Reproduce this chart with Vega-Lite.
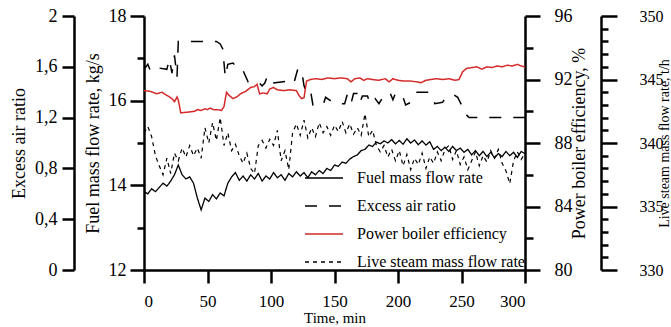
{
  "$schema": "https://vega.github.io/schema/vega-lite/v6.json",
  "autosize": "none",
  "width": 381,
  "height": 254,
  "padding": {"left": 144, "top": 16, "right": 146, "bottom": 57},
  "background": "white",
  "config": {
    "view": {"stroke": null},
    "font": "Liberation Serif",
    "axis": {
      "grid": false,
      "domainColor": "black",
      "domainWidth": 2.5,
      "tickColor": "black",
      "tickWidth": 2.5,
      "labelColor": "black",
      "titleColor": "black",
      "labelFont": "Liberation Serif",
      "titleFont": "Liberation Serif",
      "labelFontSize": 18,
      "titleFontSize": 18,
      "titleFontWeight": "normal"
    },
    "legend": {
      "labelFont": "Liberation Serif",
      "labelFontSize": 16,
      "labelColor": "black",
      "labelLimit": 0
    }
  },
  "datasets": {
    "fuel": [
      {"t":0,"v":13.85},{"t":3,"v":13.8},{"t":6,"v":13.92},{"t":9,"v":13.85},{"t":12,"v":13.95},{"t":15,"v":14.05},{"t":18,"v":13.98},{"t":21,"v":14.1},{"t":24,"v":14.25},{"t":27,"v":14.48},{"t":30,"v":14.25},{"t":33,"v":14.15},{"t":36,"v":14.2},{"t":39,"v":14.05},{"t":42,"v":13.7},{"t":45,"v":13.42},{"t":48,"v":13.7},{"t":51,"v":13.62},{"t":54,"v":13.78},{"t":57,"v":13.68},{"t":60,"v":13.82},{"t":63,"v":13.75},{"t":66,"v":14.05},{"t":69,"v":14.2},{"t":72,"v":14.3},{"t":75,"v":14.12},{"t":78,"v":14.22},{"t":81,"v":14.1},{"t":84,"v":14.25},{"t":87,"v":14.15},{"t":90,"v":14.28},{"t":93,"v":14.1},{"t":96,"v":14.22},{"t":99,"v":14.15},{"t":102,"v":14.3},{"t":105,"v":14.18},{"t":108,"v":14.25},{"t":111,"v":14.12},{"t":114,"v":14.28},{"t":117,"v":14.2},{"t":120,"v":14.32},{"t":123,"v":14.22},{"t":126,"v":14.3},{"t":129,"v":14.18},{"t":132,"v":14.32},{"t":135,"v":14.25},{"t":138,"v":14.35},{"t":141,"v":14.28},{"t":144,"v":14.4},{"t":147,"v":14.35},{"t":150,"v":14.48},{"t":153,"v":14.45},{"t":156,"v":14.55},{"t":159,"v":14.52},{"t":162,"v":14.62},{"t":165,"v":14.68},{"t":168,"v":14.72},{"t":171,"v":14.82},{"t":174,"v":14.85},{"t":177,"v":14.95},{"t":180,"v":14.92},{"t":183,"v":15.02},{"t":186,"v":14.98},{"t":189,"v":15.05},{"t":192,"v":15.0},{"t":195,"v":15.08},{"t":198,"v":14.98},{"t":201,"v":15.06},{"t":204,"v":14.97},{"t":207,"v":15.1},{"t":210,"v":15.0},{"t":213,"v":15.07},{"t":216,"v":14.96},{"t":219,"v":15.05},{"t":222,"v":14.95},{"t":225,"v":15.03},{"t":228,"v":14.85},{"t":231,"v":14.92},{"t":234,"v":14.82},{"t":237,"v":14.9},{"t":240,"v":14.8},{"t":243,"v":14.92},{"t":246,"v":14.82},{"t":249,"v":14.88},{"t":252,"v":14.78},{"t":255,"v":14.85},{"t":258,"v":14.72},{"t":261,"v":14.82},{"t":264,"v":14.7},{"t":267,"v":14.8},{"t":270,"v":14.68},{"t":273,"v":14.78},{"t":276,"v":14.65},{"t":279,"v":14.75},{"t":282,"v":14.68},{"t":285,"v":14.8},{"t":288,"v":14.7},{"t":291,"v":14.78},{"t":294,"v":14.66},{"t":297,"v":14.8},{"t":300,"v":14.75}
    ],
    "excess": [
      {"t":0,"v":1.58},{"t":3,"v":1.62},{"t":5,"v":1.57},{"t":6,"v":1.59},{"t":12,"v":1.59},{"t":18,"v":1.58},{"t":20,"v":1.66},{"t":22,"v":1.55},{"t":24,"v":1.69},{"t":26,"v":1.52},{"t":27,"v":1.8},{"t":57,"v":1.8},{"t":60,"v":1.78},{"t":62,"v":1.74},{"t":64,"v":1.52},{"t":66,"v":1.62},{"t":70,"v":1.63},{"t":73,"v":1.6},{"t":75,"v":1.6},{"t":78,"v":1.57},{"t":82,"v":1.48},{"t":90,"v":1.48},{"t":93,"v":1.45},{"t":95,"v":1.47},{"t":97,"v":1.52},{"t":99,"v":1.47},{"t":115,"v":1.49},{"t":118,"v":1.47},{"t":121,"v":1.58},{"t":124,"v":1.58},{"t":126,"v":1.45},{"t":128,"v":1.4},{"t":131,"v":1.42},{"t":133,"v":1.3},{"t":141,"v":1.3},{"t":143,"v":1.36},{"t":150,"v":1.31},{"t":158,"v":1.31},{"t":160,"v":1.38},{"t":163,"v":1.31},{"t":165,"v":1.39},{"t":168,"v":1.39},{"t":170,"v":1.32},{"t":172,"v":1.37},{"t":176,"v":1.37},{"t":178,"v":1.31},{"t":182,"v":1.35},{"t":185,"v":1.31},{"t":190,"v":1.39},{"t":194,"v":1.39},{"t":196,"v":1.34},{"t":198,"v":1.39},{"t":202,"v":1.39},{"t":204,"v":1.36},{"t":206,"v":1.3},{"t":210,"v":1.32},{"t":215,"v":1.4},{"t":224,"v":1.4},{"t":227,"v":1.36},{"t":229,"v":1.31},{"t":235,"v":1.32},{"t":238,"v":1.36},{"t":244,"v":1.38},{"t":247,"v":1.36},{"t":250,"v":1.3},{"t":252,"v":1.24},{"t":256,"v":1.2},{"t":300,"v":1.2}
    ],
    "eff": [
      {"t":0,"v":91.3},{"t":5,"v":91.25},{"t":10,"v":91.1},{"t":14,"v":91.2},{"t":18,"v":91.0},{"t":22,"v":90.8},{"t":24,"v":90.6},{"t":26,"v":90.9},{"t":27,"v":90.7},{"t":29,"v":89.9},{"t":35,"v":89.95},{"t":40,"v":90.0},{"t":42,"v":90.1},{"t":45,"v":90.05},{"t":48,"v":90.15},{"t":50,"v":90.1},{"t":52,"v":90.2},{"t":55,"v":90.1},{"t":58,"v":90.1},{"t":61,"v":90.05},{"t":63,"v":90.3},{"t":65,"v":91.2},{"t":67,"v":91.0},{"t":70,"v":90.8},{"t":73,"v":90.9},{"t":76,"v":91.1},{"t":80,"v":91.25},{"t":84,"v":91.5},{"t":87,"v":91.55},{"t":89,"v":91.7},{"t":91,"v":91.1},{"t":94,"v":91.15},{"t":97,"v":91.1},{"t":99,"v":91.4},{"t":102,"v":91.5},{"t":105,"v":91.35},{"t":110,"v":91.3},{"t":115,"v":91.35},{"t":120,"v":91.3},{"t":122,"v":91.0},{"t":124,"v":90.8},{"t":126,"v":90.85},{"t":128,"v":91.9},{"t":131,"v":92.0},{"t":135,"v":92.05},{"t":140,"v":92.0},{"t":145,"v":92.1},{"t":150,"v":92.05},{"t":155,"v":92.1},{"t":160,"v":92.05},{"t":163,"v":91.85},{"t":166,"v":92.05},{"t":170,"v":92.1},{"t":173,"v":91.95},{"t":176,"v":92.05},{"t":180,"v":92.0},{"t":185,"v":91.95},{"t":190,"v":92.05},{"t":193,"v":91.85},{"t":196,"v":92.05},{"t":200,"v":91.95},{"t":205,"v":91.9},{"t":210,"v":91.9},{"t":215,"v":91.85},{"t":218,"v":91.8},{"t":222,"v":91.95},{"t":226,"v":92.0},{"t":230,"v":92.05},{"t":235,"v":92.0},{"t":240,"v":92.05},{"t":245,"v":91.95},{"t":248,"v":92.0},{"t":251,"v":92.5},{"t":254,"v":92.7},{"t":258,"v":92.75},{"t":262,"v":92.8},{"t":266,"v":92.65},{"t":270,"v":92.8},{"t":274,"v":92.75},{"t":278,"v":92.85},{"t":282,"v":92.8},{"t":286,"v":92.9},{"t":290,"v":92.85},{"t":294,"v":92.95},{"t":297,"v":92.85},{"t":300,"v":92.8}
    ],
    "steam": [
      {"t":0,"v":340.8},{"t":3,"v":341.3},{"t":6,"v":340.5},{"t":9,"v":339.0},{"t":12,"v":338.2},{"t":15,"v":337.5},{"t":18,"v":338.8},{"t":21,"v":337.6},{"t":24,"v":339.2},{"t":27,"v":338.6},{"t":30,"v":339.6},{"t":33,"v":338.9},{"t":36,"v":339.8},{"t":39,"v":339.0},{"t":42,"v":339.6},{"t":45,"v":338.8},{"t":48,"v":341.2},{"t":51,"v":340.0},{"t":54,"v":341.6},{"t":57,"v":340.2},{"t":60,"v":342.0},{"t":63,"v":339.8},{"t":66,"v":340.8},{"t":69,"v":339.4},{"t":72,"v":339.9},{"t":75,"v":339.0},{"t":78,"v":338.4},{"t":81,"v":339.2},{"t":84,"v":338.0},{"t":87,"v":337.6},{"t":90,"v":339.8},{"t":93,"v":340.2},{"t":96,"v":339.6},{"t":99,"v":340.3},{"t":102,"v":339.8},{"t":105,"v":341.0},{"t":108,"v":338.6},{"t":111,"v":339.4},{"t":114,"v":337.9},{"t":117,"v":340.8},{"t":120,"v":341.5},{"t":123,"v":340.6},{"t":126,"v":341.8},{"t":129,"v":340.4},{"t":132,"v":341.2},{"t":135,"v":340.5},{"t":138,"v":341.6},{"t":141,"v":340.8},{"t":144,"v":341.3},{"t":147,"v":340.6},{"t":150,"v":341.4},{"t":153,"v":340.9},{"t":156,"v":341.7},{"t":159,"v":340.8},{"t":162,"v":341.5},{"t":165,"v":340.7},{"t":168,"v":341.2},{"t":171,"v":340.6},{"t":174,"v":342.3},{"t":177,"v":340.5},{"t":180,"v":341.0},{"t":183,"v":339.8},{"t":186,"v":339.3},{"t":189,"v":339.8},{"t":192,"v":338.9},{"t":195,"v":339.5},{"t":198,"v":338.6},{"t":201,"v":339.4},{"t":204,"v":338.2},{"t":207,"v":339.1},{"t":210,"v":337.9},{"t":213,"v":338.8},{"t":216,"v":338.3},{"t":219,"v":339.2},{"t":222,"v":338.0},{"t":225,"v":338.9},{"t":228,"v":338.4},{"t":231,"v":339.3},{"t":234,"v":338.6},{"t":237,"v":339.5},{"t":240,"v":339.8},{"t":243,"v":338.7},{"t":246,"v":339.4},{"t":249,"v":338.3},{"t":252,"v":338.9},{"t":255,"v":337.9},{"t":258,"v":338.6},{"t":261,"v":339.3},{"t":264,"v":338.2},{"t":267,"v":339.0},{"t":270,"v":338.5},{"t":273,"v":339.4},{"t":276,"v":338.8},{"t":279,"v":339.5},{"t":282,"v":338.4},{"t":285,"v":337.8},{"t":288,"v":336.8},{"t":291,"v":338.6},{"t":294,"v":339.3},{"t":297,"v":338.7},{"t":300,"v":339.2}
    ]
  },
  "resolve": {"scale": {"y": "independent"}, "axis": {"y": "independent"}},
  "layer": [
    {
      "data": {"name": "fuel"},
      "mark": {"type": "line", "strokeWidth": 1.3},
      "encoding": {
        "x": {
          "field": "t", "type": "quantitative",
          "scale": {"domain": [0, 300], "nice": false},
          "axis": {"title": "Time, min", "values": [0, 50, 100, 150, 200, 250, 300], "tickSize": 13, "labelPadding": 10, "labelFontSize": 17, "titlePadding": 1, "titleFontSize": 15}
        },
        "y": {
          "field": "v", "type": "quantitative",
          "scale": {"domain": [12, 18], "nice": false, "zero": false},
          "axis": {
            "orient": "left", "offset": 0,
            "title": "Fuel mass flow rate, kg/s",
            "values": [12, 13, 14, 15, 16, 17, 18],
            "labelExpr": "datum.value % 2 == 0 ? datum.label : ''",
            "tickSize": {"condition": {"test": "datum.value % 2 == 0", "value": 14}, "value": 7},
            "labelPadding": 4, "titlePadding": 6
          }
        },
        "color": {
          "datum": "Fuel mass flow rate", "type": "nominal",
          "scale": {
            "domain": ["Fuel mass flow rate", "Excess air ratio", "Power boiler efficiency", "Live steam mass flow rate"],
            "range": ["#000000", "#000000", "#d42a2a", "#000000"]
          },
          "legend": {
            "title": null, "orient": "bottom-right", "offset": 0, "padding": 0,
            "symbolType": "stroke", "symbolSize": 1444, "symbolStrokeWidth": 1.5,
            "labelOffset": 13, "rowPadding": -2
          }
        },
        "strokeDash": {
          "datum": "Fuel mass flow rate", "type": "nominal",
          "scale": {
            "domain": ["Fuel mass flow rate", "Excess air ratio", "Power boiler efficiency", "Live steam mass flow rate"],
            "range": [[1, 0], [12, 12], [1, 0], [4, 4]]
          },
          "legend": {
            "title": null, "orient": "bottom-right", "offset": 0, "padding": 0,
            "symbolType": "stroke", "symbolSize": 1444, "symbolStrokeWidth": 1.5,
            "labelOffset": 13, "rowPadding": -2
          }
        }
      }
    },
    {
      "data": {"name": "excess"},
      "mark": {"type": "line", "strokeWidth": 1.5},
      "encoding": {
        "x": {"field": "t", "type": "quantitative"},
        "y": {
          "field": "v", "type": "quantitative",
          "scale": {"domain": [0, 2], "nice": false},
          "axis": {
            "orient": "left", "offset": 70,
            "title": "Excess air ratio",
            "values": [0, 0.4, 0.8, 1.2, 1.6, 2],
            "labelExpr": "datum.value == 0 ? '0' : datum.value == 2 ? '2' : replace(format(datum.value, '.1f'), '.', ',')",
            "tickSize": 12, "labelPadding": 5, "titlePadding": 6
          }
        },
        "color": {"datum": "Excess air ratio", "type": "nominal"},
        "strokeDash": {"datum": "Excess air ratio", "type": "nominal"}
      }
    },
    {
      "data": {"name": "eff"},
      "mark": {"type": "line", "strokeWidth": 1.5},
      "encoding": {
        "x": {"field": "t", "type": "quantitative"},
        "y": {
          "field": "v", "type": "quantitative",
          "scale": {"domain": [80, 96], "nice": false, "zero": false},
          "axis": {
            "orient": "right", "offset": 0,
            "title": "Power boiler efficiency, %", "titleAngle": 270,
            "values": [80, 82, 84, 86, 88, 90, 92, 94, 96],
            "labelExpr": "datum.value % 4 == 0 ? datum.label : ''",
            "tickSize": {"condition": {"test": "datum.value % 4 == 0", "value": 15}, "value": 8},
            "labelPadding": 14, "titlePadding": 16
          }
        },
        "color": {"datum": "Power boiler efficiency", "type": "nominal"},
        "strokeDash": {"datum": "Power boiler efficiency", "type": "nominal"}
      }
    },
    {
      "data": {"name": "steam"},
      "mark": {"type": "line", "strokeWidth": 1.2},
      "encoding": {
        "x": {"field": "t", "type": "quantitative"},
        "y": {
          "field": "v", "type": "quantitative",
          "scale": {"domain": [330, 350], "nice": false, "zero": false},
          "axis": {
            "orient": "right", "offset": 76,
            "title": "Live steam mass flow rate, t/h", "titleAngle": 270,
            "values": [330,331,332,333,334,335,336,337,338,339,340,341,342,343,344,345,346,347,348,349,350],
            "labelExpr": "datum.value % 5 == 0 ? datum.label : ''",
            "tickSize": {"condition": {"test": "datum.value % 5 == 0", "value": 16}, "value": 7},
            "labelPadding": 22, "labelFontSize": 16,
            "titleX": 70, "titleY": 127, "titleBaseline": "bottom", "titleAlign": "center", "titleFontSize": 14
          }
        },
        "color": {"datum": "Live steam mass flow rate", "type": "nominal"},
        "strokeDash": {"datum": "Live steam mass flow rate", "type": "nominal"}
      }
    }
  ]
}
